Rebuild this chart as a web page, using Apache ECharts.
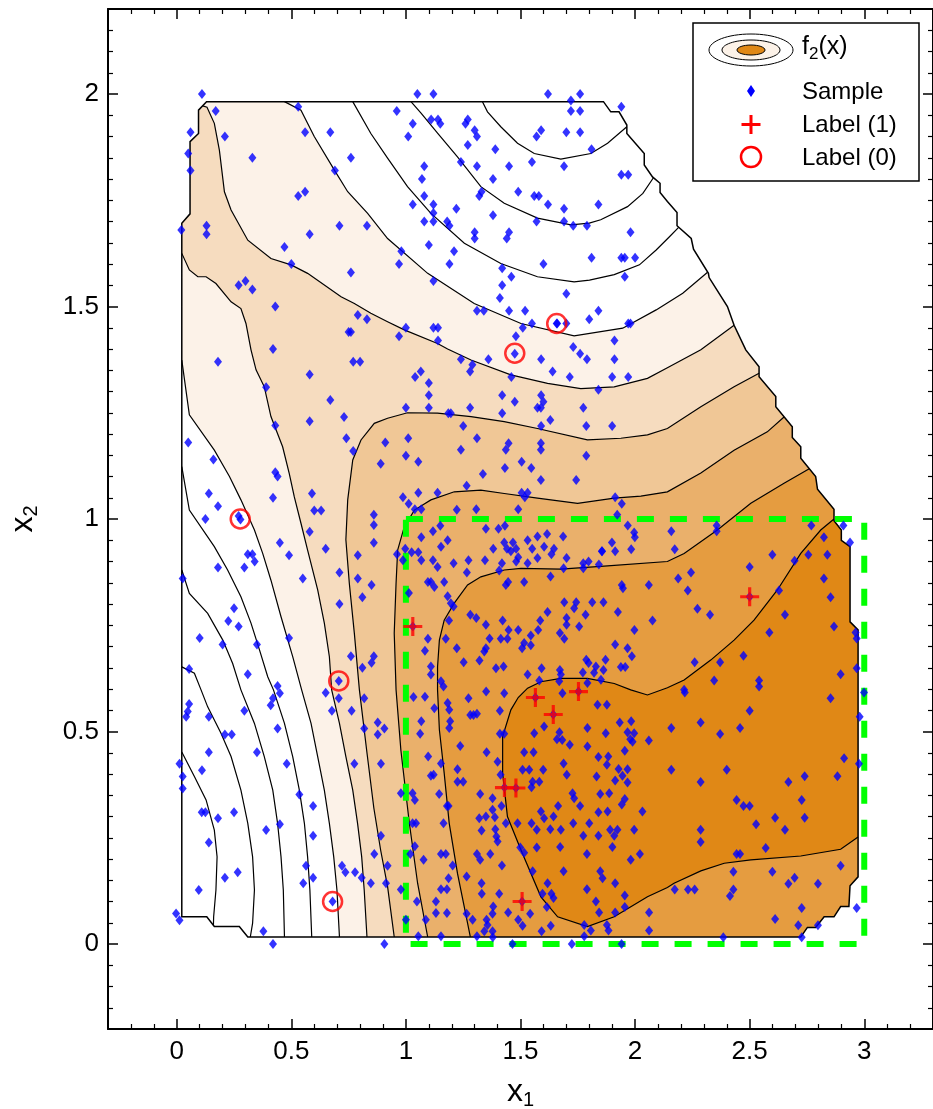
<!DOCTYPE html>
<html>
<head>
<meta charset="utf-8">
<script src="https://cdn.jsdelivr.net/npm/echarts@6/dist/echarts.min.js"></script>
<style>
html, body { margin: 0; padding: 0; background: #ffffff; }
#chart { width: 933px; height: 1109px; }
</style>
</head>
<body>
<div id="chart"></div>
<script>
// ---- axis ticks ----
const xMajorTicks = [0, 0.5, 1, 1.5, 2, 2.5, 3];
const yMajorTicks = [0, 0.5, 1, 1.5, 2];

// ---- sampling domain of f2 (clockwise outline) ----
const domainBoundary = [
  [0.13,1.982],[1.862,1.982],[1.894,1.958],[1.93,1.958],[1.964,1.927],[1.964,1.907],[2.04,1.86],[2.04,1.833],
  [2.076,1.805],[2.109,1.79],[2.109,1.768],[2.141,1.747],[2.183,1.721],[2.183,1.69],[2.245,1.66],[2.255,1.635],
  [2.32,1.578],[2.323,1.568],[2.403,1.5],[2.432,1.456],[2.483,1.398],[2.541,1.358],[2.541,1.335],[2.614,1.288],
  [2.614,1.264],[2.686,1.217],[2.686,1.192],[2.723,1.17],[2.723,1.143],[2.788,1.1],[2.796,1.07],[2.868,1.023],
  [2.868,0.996],[2.9,0.974],[2.9,0.95],[2.938,0.935],[2.938,0.758],[2.973,0.739],[2.973,0.158],[2.938,0.137],
  [2.933,0.088],[2.897,0.088],[2.868,0.064],[2.825,0.064],[2.788,0.039],[2.752,0.039],[2.723,0.0165],
  [0.31,0.0165],[0.273,0.041],[0.164,0.041],[0.131,0.064],[0.022,0.064],[0.022,1.696],[0.058,1.718],
  [0.058,1.888],[0.095,1.907],[0.095,1.962]
];

// ---- contour lines of f2 ----
const contourW3 = [[1.334,1.982],[1.356,1.958],[1.414,1.923],[1.487,1.884],[1.56,1.86],[1.676,1.847],[1.807,1.86],[1.88,1.884],[1.964,1.923]];
const contourW2 = [[1.022,1.982],[1.066,1.955],[1.138,1.908],[1.225,1.852],[1.327,1.782],[1.429,1.743],[1.574,1.708],[1.72,1.692],[1.8,1.696],[1.85,1.704],[1.967,1.735],[2.034,1.766],[2.08,1.803]];
const contourW1 = [[0.768,1.982],[0.847,1.907],[0.92,1.849],[1.007,1.782],[1.109,1.719],[1.255,1.649],[1.414,1.601],[1.574,1.57],[1.734,1.558],[1.801,1.562],[1.909,1.575],[2.019,1.598],[2.092,1.633],[2.15,1.664],[2.19,1.686]];
const contourL01u = [[0.47,1.982],[0.542,1.962],[0.6,1.9],[0.688,1.821],[0.746,1.77],[0.833,1.719],[0.92,1.66],[1.095,1.578],[1.298,1.507],[1.502,1.46],[1.734,1.431],[1.946,1.449],[2.092,1.492],[2.208,1.531],[2.315,1.58]];
const contourL12u = [[0.113,1.972],[0.132,1.969],[0.164,1.931],[0.186,1.868],[0.208,1.77],[0.237,1.727],[0.31,1.656],[0.411,1.613],[0.499,1.598],[0.571,1.578],[0.717,1.523],[0.775,1.507],[0.847,1.484],[0.92,1.464],[0.993,1.445],[1.138,1.413],[1.182,1.4],[1.284,1.374],[1.458,1.339],[1.618,1.319],[1.763,1.307],[1.909,1.311],[2.054,1.331],[2.141,1.356],[2.287,1.398],[2.432,1.456]];
const contourL23 = [[2.541,1.343],[2.432,1.311],[2.287,1.264],[2.141,1.213],[2.054,1.198],[1.938,1.19],[1.792,1.186],[1.574,1.213],[1.429,1.229],[1.284,1.241],[1.138,1.249],[1.007,1.25],[0.92,1.237],[0.862,1.225],[0.804,1.186],[0.768,1.139],[0.746,1.045],[0.738,0.951],[0.753,0.849],[0.775,0.731],[0.797,0.598],[0.83,0.45],[0.86,0.32],[0.89,0.22],[0.92,0.135],[0.949,0.0165]];
const contourL34 = [[2.65,1.24],[2.577,1.205],[2.432,1.162],[2.287,1.108],[2.141,1.064],[2.025,1.054],[1.909,1.049],[1.749,1.037],[1.574,1.049],[1.429,1.06],[1.327,1.068],[1.211,1.064],[1.109,1.045],[1.037,1.021],[0.993,0.982],[0.964,0.927],[0.957,0.849],[0.949,0.731],[0.957,0.598],[0.978,0.456],[1.015,0.284],[1.051,0.143],[1.095,0.0165]];
const contourL45 = [[2.76,1.118],[2.65,1.084],[2.505,1.037],[2.359,0.974],[2.214,0.919],[2.141,0.9],[1.865,0.889],[1.676,0.882],[1.502,0.884],[1.429,0.88],[1.327,0.864],[1.269,0.845],[1.211,0.802],[1.167,0.762],[1.146,0.715],[1.138,0.652],[1.138,0.598],[1.146,0.504],[1.167,0.402],[1.189,0.284],[1.225,0.166],[1.269,0.049],[1.281,0.0165]];
const contourL56 = [[2.868,1.0],[2.81,0.974],[2.723,0.919],[2.621,0.833],[2.519,0.762],[2.432,0.715],[2.33,0.668],[2.214,0.621],[2.141,0.603],[2.054,0.586],[1.981,0.598],[1.909,0.613],[1.792,0.625],[1.676,0.625],[1.589,0.617],[1.531,0.602],[1.49,0.58],[1.458,0.551],[1.422,0.488],[1.422,0.402],[1.443,0.3],[1.502,0.221],[1.589,0.111],[1.662,0.064],[1.792,0.041],[1.909,0.064],[2.054,0.111],[2.141,0.133],[2.17,0.143],[2.287,0.172],[2.389,0.19],[2.505,0.198],[2.723,0.207],[2.897,0.223],[2.973,0.252]];
const contourL12l = [[0.022,1.625],[0.055,1.586],[0.092,1.57],[0.128,1.57],[0.171,1.554],[0.237,1.511],[0.28,1.495],[0.302,1.46],[0.324,1.398],[0.346,1.351],[0.382,1.311],[0.411,1.241],[0.462,1.17],[0.491,1.107],[0.513,1.052],[0.542,0.99],[0.571,0.927],[0.615,0.833],[0.644,0.755],[0.666,0.676],[0.676,0.598],[0.71,0.519],[0.738,0.441],[0.768,0.362],[0.789,0.284],[0.807,0.205],[0.818,0.127],[0.83,0.0165]];
const contourL01l = [[0.022,1.374],[0.055,1.245],[0.164,1.162],[0.23,1.1],[0.28,1.045],[0.339,0.974],[0.375,0.919],[0.411,0.856],[0.455,0.77],[0.506,0.676],[0.545,0.598],[0.586,0.519],[0.615,0.441],[0.644,0.362],[0.666,0.284],[0.685,0.205],[0.699,0.127],[0.71,0.0165]];
const contourW4a = [[0.022,1.123],[0.055,1.021],[0.164,0.935],[0.222,0.88],[0.28,0.817],[0.324,0.755],[0.361,0.692],[0.397,0.629],[0.422,0.598],[0.47,0.519],[0.506,0.441],[0.535,0.362],[0.557,0.284],[0.571,0.205],[0.581,0.127],[0.589,0.0165]];
const contourW4b = [[0.022,0.88],[0.055,0.825],[0.135,0.778],[0.201,0.715],[0.244,0.66],[0.28,0.598],[0.339,0.519],[0.382,0.441],[0.419,0.362],[0.44,0.284],[0.455,0.205],[0.465,0.127],[0.47,0.0165]];
const contourW4c = [[0.022,0.652],[0.077,0.637],[0.106,0.598],[0.135,0.558],[0.193,0.496],[0.237,0.441],[0.28,0.362],[0.31,0.284],[0.331,0.205],[0.339,0.127],[0.331,0.049],[0.321,0.0165]];
const contourW4d = [[0.022,0.452],[0.077,0.394],[0.128,0.339],[0.164,0.268],[0.176,0.205],[0.171,0.127],[0.161,0.064],[0.16,0.044]];

const allContours = [contourW3, contourW2, contourW1, contourL01u, contourL12u, contourL23, contourL34,
  contourL45, contourL56, contourL12l, contourL01l, contourW4a, contourW4b, contourW4c, contourW4d];

// filled bands: each is bounded by its contour(s) and the domain outline
const levelColors = ['#fcf2e8', '#f6dcbf', '#f0c796', '#eab06b', '#e59c40', '#e08816'];
const levelBounds = [
  [[contourL01u, false], [contourL01l, true]],
  [[contourL12u, false], [contourL12l, true]],
  [[contourL23, true]],
  [[contourL34, true]],
  [[contourL45, true]],
  [[contourL56, true]]
];

// ---- sample points ----
const samplePoints = [
  [0.11,2.0],[0.17,1.96],[0.53,1.97],[0.06,1.91],[0.21,1.9],[0.56,1.91],[0.67,1.91],[0.05,1.86],[0.33,1.85],[0.76,1.85],
  [0.06,1.82],[0.69,1.82],[0.56,1.77],[0.53,1.76],[0.02,1.68],[0.13,1.69],[0.13,1.67],[0.71,1.69],[0.83,1.69],[0.58,1.67],
  [0.47,1.64],[0.5,1.6],[0.76,1.58],[0.27,1.55],[0.3,1.56],[0.33,1.54],[0.43,1.5],[0.79,1.48],[0.83,1.47],[0.75,1.44],
  [0.76,1.44],[0.42,1.4],
  [1.05,2.0],[1.12,2.0],[1.62,2.0],[1.76,2.0],[1.72,1.985],[0.96,1.96],[1.11,1.94],[1.14,1.94],[1.15,1.93],[1.27,1.94],
  [1.26,1.93],[1.03,1.93],[1.01,1.9],[1.3,1.915],[1.31,1.9],[1.27,1.88],[1.59,1.915],[1.57,1.9],[1.7,1.91],[1.76,1.91],
  [1.72,1.96],[1.76,1.96],[1.94,1.97],[1.39,1.87],[1.81,1.87],[1.24,1.84],[1.31,1.83],[1.45,1.83],[1.55,1.84],[1.69,1.83],
  [1.08,1.83],[1.07,1.8],[1.38,1.8],[1.94,1.81],[1.97,1.81],[1.08,1.76],[1.03,1.74],[1.12,1.74],[1.22,1.73],[1.33,1.77],
  [1.32,1.76],[1.49,1.77],[1.56,1.76],[1.58,1.76],[1.62,1.74],[1.69,1.73],[1.84,1.74],[1.12,1.72],[1.08,1.7],[1.12,1.7],
  [1.18,1.7],[1.19,1.69],[1.38,1.715],[1.57,1.7],[1.69,1.7],[1.73,1.69],[1.79,1.69],[1.3,1.675],[1.3,1.66],[1.45,1.675],
  [1.44,1.66],[1.98,1.675],[1.1,1.645],[1.21,1.63],[1.19,1.6],[0.98,1.63],[0.97,1.6],[1.6,1.6],[1.81,1.615],[1.94,1.615],
  [1.955,1.615],[2.0,1.615],[1.42,1.59],[1.46,1.57],[1.955,1.57],[1.12,1.56],[1.42,1.55],[1.41,1.52],[1.7,1.53],[1.31,1.49],
  [1.34,1.49],[1.45,1.49],[1.52,1.49],[1.55,1.46],[1.66,1.46],[1.7,1.46],[1.8,1.47],[1.84,1.49],[1.97,1.46],[1.98,1.46],
  [1.0,1.45],[1.12,1.45],[1.14,1.45],[0.97,1.43],[1.14,1.42],[1.48,1.43],[1.51,1.45],[1.91,1.42],[1.73,1.405],
  [0.18,1.37],[0.77,1.37],[0.8,1.37],[0.58,1.34],[0.39,1.31],[0.67,1.28],[0.73,1.24],[0.58,1.23],[0.43,1.22],[0.74,1.19],
  [0.05,1.18],[0.77,1.16],[0.91,1.18],[0.16,1.14],[0.89,1.13],[0.43,1.11],[0.44,1.1],[0.14,1.06],[0.59,1.06],[0.42,1.05],
  [0.18,1.03],[0.6,1.02],[0.63,1.02],[0.125,1.0],[0.27,1.007],[0.278,0.999],[0.86,1.01],[0.86,0.986],[0.58,0.97],[0.45,0.944],
  [0.86,0.944],[0.49,0.915],[0.31,0.917],[0.33,0.917],[0.34,0.9],[0.65,0.93],[0.79,0.915],[0.18,0.886],[0.295,0.886],[0.026,0.86],
  [0.55,0.86],[0.71,0.874],[0.79,0.86],[0.85,0.845],[0.81,0.816],[0.71,0.8],[0.25,0.79],[0.225,0.76],[0.27,0.747],[0.1,0.72],
  [0.2,0.705],[0.35,0.705],[0.49,0.72],[0.76,0.677],[0.86,0.677],[0.85,0.662],[0.81,0.65],[0.054,0.647],[0.31,0.635],[0.707,0.619],
  [0.44,0.607],
  [0.45,0.59],[0.42,0.578],[0.41,0.562],[0.054,0.565],[0.048,0.547],[0.041,0.535],[0.14,0.535],[0.295,0.549],[0.44,0.507],[0.21,0.493],
  [0.24,0.493],[0.14,0.451],[0.35,0.451],[0.012,0.424],[0.026,0.394],[0.026,0.366],[0.11,0.409],[0.48,0.424],[0.535,0.352],[0.595,0.325],
  [0.109,0.31],[0.125,0.31],[0.18,0.296],[0.25,0.31],[0.39,0.268],[0.45,0.282],[0.595,0.255],[0.14,0.239],[0.564,0.184],[0.21,0.156],
  [0.266,0.169],[0.595,0.156],[0.552,0.143],[0.096,0.127],[0.68,0.1],[-0.003,0.072],[0.012,0.056],[0.378,0.03],[0.42,0.0],[0.65,0.591],
  [0.707,0.578],[0.677,0.549],[0.763,0.549],[0.818,0.578],[0.818,0.507],[0.877,0.521],[0.877,0.493],[0.906,0.507],[0.775,0.424],[0.891,0.424],
  [0.891,0.255],[0.862,0.212],[0.721,0.184],[0.736,0.169],[0.778,0.169],[0.807,0.156],[0.847,0.143],[0.92,0.184],[0.913,0.143],[0.906,0.0],
  [1.24,1.376],[1.36,1.376],[1.475,1.389],[1.59,1.376],[1.76,1.389],[1.79,1.376],[1.91,1.376],[1.64,1.347],[1.715,1.334],[1.9,1.334],
  [1.97,1.334],[1.84,1.304],[1.065,1.347],[1.04,1.334],[1.1,1.32],[1.28,1.347],[1.29,1.363],[1.46,1.334],[1.1,1.291],[1.1,1.262],
  [1.0,1.262],[1.185,1.249],[1.196,1.249],[1.28,1.262],[1.42,1.291],[1.42,1.249],[1.475,1.276],[1.59,1.291],[1.6,1.276],[1.574,1.262],
  [1.589,1.262],[1.774,1.262],[1.63,1.233],[1.59,1.219],[1.787,1.219],[1.9,1.219],[1.25,1.219],[1.01,1.19],[1.31,1.19],[1.24,1.163],
  [1.0,1.149],[1.054,1.135],[1.448,1.178],[1.436,1.163],[1.589,1.178],[1.589,1.163],[1.787,1.149],[1.505,1.135],[1.547,1.12],[1.432,1.12],
  [1.336,1.106],[1.589,1.092],[1.743,1.092],[1.265,1.078],[1.054,1.062],[1.138,1.062],[0.987,1.051],[1.012,1.036],[1.039,1.023],[1.067,1.023],
  [1.222,1.022],[1.307,1.023],[1.49,1.023],[1.505,1.062],[1.519,1.051],[1.531,1.062],[1.913,1.051],[1.942,1.036],[1.922,1.01],[1.968,0.985],
  [1.996,0.968],[1.999,0.957],[1.899,0.945],[1.913,0.924],[1.983,0.929],[1.856,0.924],[1.842,0.893],[1.774,0.896],[1.774,0.884],[1.701,0.908],
  [1.688,0.884],[1.631,0.865],[1.516,0.852],[1.446,0.852],[1.436,0.845],[1.266,0.874],[1.208,0.896],[1.167,0.852],[1.109,0.852],[1.124,0.84],
  [1.096,0.852],[1.182,0.818],[1.196,0.802],[1.208,0.794],[1.067,0.957],[1.118,0.971],[1.15,0.984],[1.182,0.95],[1.153,0.935],[1.067,0.903],
  [1.118,0.903],[1.138,0.887],[1.054,0.922],[1.025,0.922],[0.997,0.93],[0.961,0.917],[0.987,0.903],[1.273,0.903],[1.345,0.903],[1.407,0.879],
  [1.419,0.896],[1.381,0.93],[1.349,0.977],[1.404,0.977],[1.432,0.984],[1.429,0.945],[1.467,0.945],[1.441,0.93],[1.458,0.924],[1.481,0.93],
  [1.49,0.91],[1.481,0.9],[1.531,0.95],[1.551,0.93],[1.574,0.959],[1.616,0.965],[1.603,0.935],[1.574,0.908],[1.531,0.896],[1.635,0.917],
  [1.646,0.93],[1.686,0.959],[1.797,0.9],[1.855,0.924],[1.013,0.826],[1.188,0.761],[1.281,0.775],[1.307,0.767],[1.349,0.751],[1.422,0.761],
  [1.448,0.739],[1.49,0.739],[1.586,0.761],[1.618,0.781],[1.701,0.767],[1.701,0.751],[1.691,0.804],[1.743,0.804],[1.734,0.79],[1.813,0.804],
  [1.862,0.804],[1.784,0.775],[1.756,0.747],[1.672,0.732],[1.691,0.718],[1.925,0.781],[1.942,0.845],[1.947,0.837],[2.06,0.845],[1.997,0.739],
  [2.076,0.761],[1.096,0.718],[1.083,0.69],[1.174,0.718],[1.222,0.696],[1.252,0.663],[1.321,0.667],[1.349,0.696],[1.342,0.688],[1.365,0.719],
  [1.414,0.718],[1.443,0.718],[1.516,0.708],[1.507,0.696],[1.545,0.703],[1.545,0.726],[1.577,0.739],[1.592,0.649],[1.531,0.634],[1.426,0.653],
  [1.393,0.649],[1.582,0.62],[1.672,0.645],[1.676,0.634],[1.787,0.669],[1.797,0.661],[1.829,0.653],[1.871,0.669],[1.862,0.645],[1.772,0.639],
  [1.821,0.638],[1.851,0.622],[1.913,0.705],[1.967,0.696],[1.986,0.677],[1.938,0.652],[1.957,0.652],[1.109,0.653],[1.109,0.634],[1.153,0.618],
  [1.164,0.606],[1.669,0.618],[1.792,0.614],
  [1.033,0.581],[1.083,0.582],[1.124,0.555],[1.182,0.567],[1.189,0.551],[1.273,0.578],[1.281,0.539],[1.295,0.539],[1.31,0.542],[1.35,0.594],
  [1.41,0.549],[1.429,0.59],[1.683,0.59],[1.836,0.563],[1.877,0.563],[1.933,0.521],[1.983,0.524],[1.067,0.524],[1.062,0.495],[1.193,0.524],
  [1.189,0.508],[1.237,0.466],[1.41,0.495],[1.429,0.495],[1.56,0.496],[1.603,0.512],[1.67,0.498],[1.659,0.482],[1.682,0.48],[1.715,0.469],
  [1.792,0.508],[1.792,0.465],[1.872,0.496],[1.967,0.498],[1.979,0.482],[1.989,0.476],[1.996,0.496],[2.06,0.479],[1.955,0.455],[1.097,0.441],
  [1.153,0.425],[1.352,0.451],[1.4,0.429],[1.413,0.398],[1.516,0.451],[1.557,0.451],[1.688,0.425],[1.84,0.44],[1.883,0.441],[1.877,0.422],
  [1.928,0.412],[1.967,0.411],[1.702,0.398],[1.832,0.394],[1.913,0.385],[1.945,0.396],[1.967,0.38],[1.109,0.396],[1.121,0.398],[1.225,0.411],
  [1.225,0.382],[1.25,0.382],[1.509,0.41],[1.538,0.41],[1.599,0.41],[1.553,0.382],[1.582,0.382],[1.548,0.369],[0.978,0.355],[1.029,0.355],
  [1.039,0.339],[1.145,0.353],[1.179,0.325],[1.186,0.325],[1.324,0.353],[1.378,0.343],[1.417,0.325],[1.32,0.296],[1.349,0.3],[1.378,0.316],
  [1.388,0.298],[1.436,0.284],[1.487,0.284],[1.548,0.284],[1.571,0.269],[1.589,0.312],[1.603,0.296],[1.644,0.3],[1.664,0.325],[1.727,0.355],
  [1.734,0.343],[1.76,0.325],[1.848,0.353],[1.887,0.355],[1.942,0.328],[1.955,0.341],[1.84,0.31],[1.88,0.312],[2.032,0.312],[1.63,0.27],
  [1.673,0.228],[1.73,0.284],[1.774,0.255],[1.8,0.284],[1.84,0.255],[1.891,0.269],[1.909,0.255],[1.923,0.269],[1.996,0.269],[1.901,0.228],
  [2.021,0.212],[1.981,0.198],[1.79,0.212],[1.516,0.215],[1.499,0.227],[1.571,0.227],[1.676,0.269],[1.33,0.267],[1.39,0.27],[1.395,0.253],
  [1.4,0.241],[1.029,0.284],[1.044,0.284],[1.164,0.284],[1.039,0.23],[1.019,0.212],[1.077,0.198],[1.153,0.212],[1.174,0.212],[1.204,0.185],
  [1.31,0.212],[1.324,0.198],[1.368,0.212],[1.419,0.185],[1.553,0.171],[1.688,0.171],[1.848,0.171],[1.858,0.155],[1.913,0.143],[1.79,0.129],
  [1.829,0.1],[1.955,0.114],[1.955,0.087],[1.913,0.074],[1.843,0.074],[2.061,0.074],[2.061,0.032],[1.877,0.045],[1.884,0.032],[1.807,0.032],
  [1.778,0.045],[1.632,0.043],[1.592,0.03],[1.596,0.118],[1.635,0.118],[1.644,0.108],[1.618,0.143],[1.615,0.087],[1.542,0.071],[1.49,0.057],
  [1.509,0.043],[1.446,0.074],[1.407,0.118],[1.381,0.088],[1.378,0.071],[1.352,0.057],[1.356,0.045],[1.342,0.03],[1.291,0.057],[1.265,0.159],
  [1.265,0.071],[1.33,0.143],[1.331,0.118],[1.378,0.03],[1.186,0.155],[1.153,0.129],[1.179,0.129],[1.131,0.1],[1.131,0.073],[1.179,0.073],
  [1.087,0.057],[1.048,0.1],[0.978,0.128],[1.0,0.057],[1.054,0.018],[1.153,0.018],[1.31,0.018],[1.379,0.016],[1.724,0.0],[1.778,0.018],
  [1.465,0.0],[1.941,0.0],
  [2.158,0.971],[2.173,0.929],[2.356,0.985],[2.356,0.971],[2.769,0.985],[2.909,0.985],[2.938,0.945],[2.824,0.957],[2.756,0.916],[2.839,0.916],
  [2.696,0.902],[2.599,0.916],[2.5,0.887],[2.244,0.874],[2.188,0.86],[2.23,0.832],[2.824,0.86],[2.853,0.816],[2.628,0.832],[2.272,0.789],
  [2.327,0.775],[2.654,0.775],[2.868,0.747],[2.586,0.733],[2.962,0.733],[2.967,0.719],[2.473,0.678],[2.371,0.663],[2.26,0.663],[2.967,0.649],
  [2.897,0.635],[2.345,0.62],[2.541,0.62],[2.541,0.606],[2.214,0.598],
  [2.217,0.592],[2.853,0.578],[2.999,0.592],[2.98,0.535],[2.5,0.549],[2.158,0.508],[2.286,0.521],[2.371,0.494],[2.458,0.508],[2.912,0.437],
  [2.977,0.424],[2.158,0.41],[2.4,0.41],[2.286,0.381],[2.669,0.381],[2.74,0.395],[2.883,0.395],[2.443,0.339],[2.473,0.325],[2.5,0.325],
  [2.727,0.339],[2.528,0.282],[2.611,0.297],[2.74,0.297],[2.654,0.269],[2.286,0.269],[2.286,0.24],[2.57,0.226],[2.443,0.212],[2.458,0.212],
  [2.897,0.184],[2.429,0.17],[2.599,0.17],[2.696,0.156],[2.669,0.142],[2.798,0.142],[2.173,0.128],[2.231,0.128],[2.26,0.128],[2.429,0.128],
  [2.414,0.113],[2.727,0.085],[2.967,0.085],[2.611,0.059],[2.712,0.044],[2.798,0.044],[2.385,0.016],[2.727,0.016],
  [1.03,0.747],[1.565,0.58],[1.643,0.54],[1.753,0.594],[2.5,0.817],[1.43,0.368],[1.48,0.367],[1.507,0.1],[1.658,1.46]
];

// points carrying label 1 and label 0
const labelOnePoints = [[1.03,0.747],[1.565,0.58],[1.643,0.54],[1.753,0.594],[2.5,0.817],[1.43,0.368],[1.48,0.367],[1.507,0.1]];
const labelZeroPoints = [[1.658,1.46],[1.475,1.39],[0.277,1.0],[0.707,0.619],[0.68,0.1]];

// dashed region x1 in [1,3], x2 in [0,1]
const regionX = [1, 3];
const regionY = [0, 1];

// ---- helpers ----
const FONT = 'Liberation Sans, Arial, Helvetica, sans-serif';
const PX = 229.2, PY = 425;  // rough px-per-unit, only used to measure distances

function locateOnBoundary(p) {
  const n = domainBoundary.length;
  let best = Infinity, pos = 0;
  for (let i = 0; i < n; i++) {
    const a = domainBoundary[i], b = domainBoundary[(i + 1) % n];
    const ax = a[0] * PX, ay = a[1] * PY, bx = b[0] * PX, by = b[1] * PY;
    const px = p[0] * PX, py = p[1] * PY;
    const dx = bx - ax, dy = by - ay;
    const L = dx * dx + dy * dy;
    let t = L > 0 ? ((px - ax) * dx + (py - ay) * dy) / L : 0;
    t = Math.max(0, Math.min(1, t));
    const qx = ax + t * dx, qy = ay + t * dy;
    const d = (px - qx) * (px - qx) + (py - qy) * (py - qy);
    if (d < best) { best = d; pos = i + t; }
  }
  return pos;
}

function walkBoundary(p, q) {
  const n = domainBoundary.length;
  const sp = locateOnBoundary(p), sq = locateOnBoundary(q);
  const end = sq >= sp ? Math.floor(sq) : Math.floor(sq) + n;
  const out = [];
  for (let i = Math.floor(sp) + 1; i <= end; i++) out.push(domainBoundary[i % n]);
  return out;
}

function bandPolygon(bounds) {
  const pts = [];
  for (let k = 0; k < bounds.length; k++) {
    const cur = bounds[k][1] ? bounds[k][0].slice().reverse() : bounds[k][0];
    const nx = bounds[(k + 1) % bounds.length];
    const nextStart = nx[1] ? nx[0][nx[0].length - 1] : nx[0][0];
    pts.push(...cur);
    pts.push(...walkBoundary(cur[cur.length - 1], nextStart));
  }
  return pts;
}

const bandPolygons = levelBounds.map(bandPolygon);

function axisCommon(extra) {
  return Object.assign({
    type: 'value',
    splitLine: { show: false },
    axisLine: { show: false, onZero: false },
    axisLabel: { show: false },
    axisTick: { show: true, inside: true }
  }, extra);
}

const xMinorTicks = [];
for (let k = -2; k <= 32; k++) if (k % 5 !== 0) xMinorTicks.push(k / 10);
const yMinorTicks = [];
for (let k = -3; k <= 43; k++) if (k % 10 !== 0) yMinorTicks.push(k / 20);

const lineBlack = { color: '#000', width: 2 };
const tickMajor = { color: '#000', width: 1.5 };
const tickMinor = { color: '#000', width: 1.2 };

const chart = echarts.init(document.getElementById('chart'), null, { renderer: 'canvas' });

const option = {
  backgroundColor: '#ffffff',
  animation: false,
  grid: { left: 108, top: 9, width: 825, height: 1020, outerBoundsMode: 'none', containLabel: false },
  xAxis: [
    axisCommon({
      min: -0.3, max: 3.3, position: 'bottom',
      axisLine: { show: true, onZero: false, lineStyle: lineBlack },
      axisTick: { show: true, inside: true, length: 10, customValues: xMajorTicks, lineStyle: tickMajor },
      axisLabel: { show: true, customValues: xMajorTicks, fontSize: 26, color: '#000', fontFamily: FONT, margin: 10 },
      name: '{b|x}{s|1}', nameLocation: 'middle', nameGap: 45,
      nameTextStyle: { color: '#000', rich: {
        b: { fontSize: 32, fontFamily: FONT, color: '#000' },
        s: { fontSize: 20, fontFamily: FONT, color: '#000', padding: [16, 0, 0, 0] }
      } }
    }),
    axisCommon({ min: -0.3, max: 3.3, position: 'bottom',
      axisTick: { show: true, inside: true, length: 5, customValues: xMinorTicks, lineStyle: tickMinor } }),
    axisCommon({ min: -0.3, max: 3.3, position: 'top',
      axisLine: { show: true, onZero: false, lineStyle: lineBlack },
      axisTick: { show: true, inside: true, length: 10, customValues: xMajorTicks, lineStyle: tickMajor } }),
    axisCommon({ min: -0.3, max: 3.3, position: 'top',
      axisTick: { show: true, inside: true, length: 5, customValues: xMinorTicks, lineStyle: tickMinor } })
  ],
  yAxis: [
    axisCommon({
      min: -0.2, max: 2.2, position: 'left',
      axisLine: { show: true, onZero: false, lineStyle: lineBlack },
      axisTick: { show: true, inside: true, length: 10, customValues: yMajorTicks, lineStyle: tickMajor },
      axisLabel: { show: true, customValues: yMajorTicks, fontSize: 26, color: '#000', fontFamily: FONT, margin: 9 },
      name: '{b|x}{s|2}', nameLocation: 'middle', nameGap: 67, nameRotate: 90,
      nameTextStyle: { color: '#000', rich: {
        b: { fontSize: 32, fontFamily: FONT, color: '#000' },
        s: { fontSize: 20, fontFamily: FONT, color: '#000', padding: [16, 0, 0, 0] }
      } }
    }),
    axisCommon({ min: -0.2, max: 2.2, position: 'left',
      axisTick: { show: true, inside: true, length: 5, customValues: yMinorTicks, lineStyle: tickMinor } }),
    axisCommon({ min: -0.2, max: 2.2, position: 'right',
      axisLine: { show: true, onZero: false, lineStyle: lineBlack },
      axisTick: { show: true, inside: true, length: 10, customValues: yMajorTicks, lineStyle: tickMajor } }),
    axisCommon({ min: -0.2, max: 2.2, position: 'right',
      axisTick: { show: true, inside: true, length: 5, customValues: yMinorTicks, lineStyle: tickMinor } })
  ],
  series: [
    {
      name: 'f2 bands', type: 'custom', z: 1, silent: true,
      data: bandPolygons.map(() => [1, 1]),
      renderItem: function (params, api) {
        const poly = bandPolygons[params.dataIndex];
        return {
          type: 'polygon',
          shape: { points: poly.map(p => api.coord(p)) },
          style: { fill: levelColors[params.dataIndex], stroke: null }
        };
      }
    },
    {
      name: 'f2 contours', type: 'custom', z: 2, silent: true,
      data: allContours.map(() => [1, 1]),
      renderItem: function (params, api) {
        const line = allContours[params.dataIndex];
        return {
          type: 'polyline',
          shape: { points: line.map(p => api.coord(p)) },
          style: { stroke: '#000', lineWidth: 1.2, fill: null }
        };
      }
    },
    {
      name: 'domain', type: 'custom', z: 3, silent: true,
      data: [[1, 1]],
      renderItem: function (params, api) {
        return {
          type: 'polygon',
          shape: { points: domainBoundary.map(p => api.coord(p)) },
          style: { stroke: '#000', lineWidth: 1.5, fill: null }
        };
      }
    },
    {
      name: 'region', type: 'line', z: 4, silent: true,
      data: [[regionX[0], regionY[1]], [regionX[1], regionY[1]], [regionX[1], regionY[0]],
             [regionX[0], regionY[0]], [regionX[0], regionY[1]]],
      symbol: 'none',
      lineStyle: { color: '#00ff00', width: 6, type: [17, 16], cap: 'butt' }
    },
    {
      name: 'Sample', type: 'scatter', z: 5, silent: true,
      data: samplePoints,
      symbol: 'diamond', symbolSize: [8, 10],
      itemStyle: { color: '#0000ff' }
    },
    {
      name: 'Label (0)', type: 'scatter', z: 6, silent: true,
      data: labelZeroPoints,
      symbol: 'circle', symbolSize: 19,
      itemStyle: { color: 'rgba(0,0,0,0)', borderColor: '#ff0000', borderWidth: 2.5 }
    },
    {
      name: 'Label (1)', type: 'scatter', z: 7, silent: true,
      data: labelOnePoints,
      symbol: 'path://M7.5,0H10.5V18H7.5Z M0,7.5H18V10.5H0Z', symbolSize: 19,
      itemStyle: { color: '#ff0000' }
    }
  ],
  graphic: [
    {
      type: 'group', z: 100,
      children: [
        { type: 'rect', shape: { x: 693, y: 23, width: 226, height: 158 },
          style: { fill: '#fff', stroke: '#000', lineWidth: 1.5 } },
        { type: 'ellipse', shape: { cx: 751, cy: 50, rx: 42, ry: 16 }, style: { fill: '#fff', stroke: '#000', lineWidth: 1 } },
        { type: 'ellipse', shape: { cx: 751, cy: 50, rx: 29, ry: 10 }, style: { fill: levelColors[0], stroke: '#000', lineWidth: 1 } },
        { type: 'ellipse', shape: { cx: 751, cy: 50, rx: 14, ry: 5 }, style: { fill: levelColors[5], stroke: '#000', lineWidth: 1 } },
        { type: 'text', x: 802, y: 47,
          style: { text: '{a|f}{s|2}{a|(x)}', verticalAlign: 'middle', align: 'left',
            rich: { a: { fontSize: 25, fontFamily: FONT, fill: '#000' },
                    s: { fontSize: 17, fontFamily: FONT, fill: '#000', padding: [14, 0, 0, 0] } } } },
        { type: 'polygon', shape: { points: [[751, 85], [755, 91], [751, 97], [747, 91]] }, style: { fill: '#0000ff' } },
        { type: 'text', x: 802, y: 92,
          style: { text: 'Sample', fontSize: 24, fontFamily: FONT, fill: '#000', verticalAlign: 'middle' } },
        { type: 'rect', shape: { x: 741.5, y: 123, width: 19, height: 3 }, style: { fill: '#ff0000' } },
        { type: 'rect', shape: { x: 749.5, y: 115, width: 3, height: 19 }, style: { fill: '#ff0000' } },
        { type: 'text', x: 802, y: 125,
          style: { text: 'Label (1)', fontSize: 24, fontFamily: FONT, fill: '#000', verticalAlign: 'middle' } },
        { type: 'circle', shape: { cx: 751, cy: 157, r: 10 }, style: { fill: 'none', stroke: '#ff0000', lineWidth: 2.5 } },
        { type: 'text', x: 802, y: 158,
          style: { text: 'Label (0)', fontSize: 24, fontFamily: FONT, fill: '#000', verticalAlign: 'middle' } }
      ]
    }
  ]
};

chart.setOption(option);
</script>
</body>
</html>
